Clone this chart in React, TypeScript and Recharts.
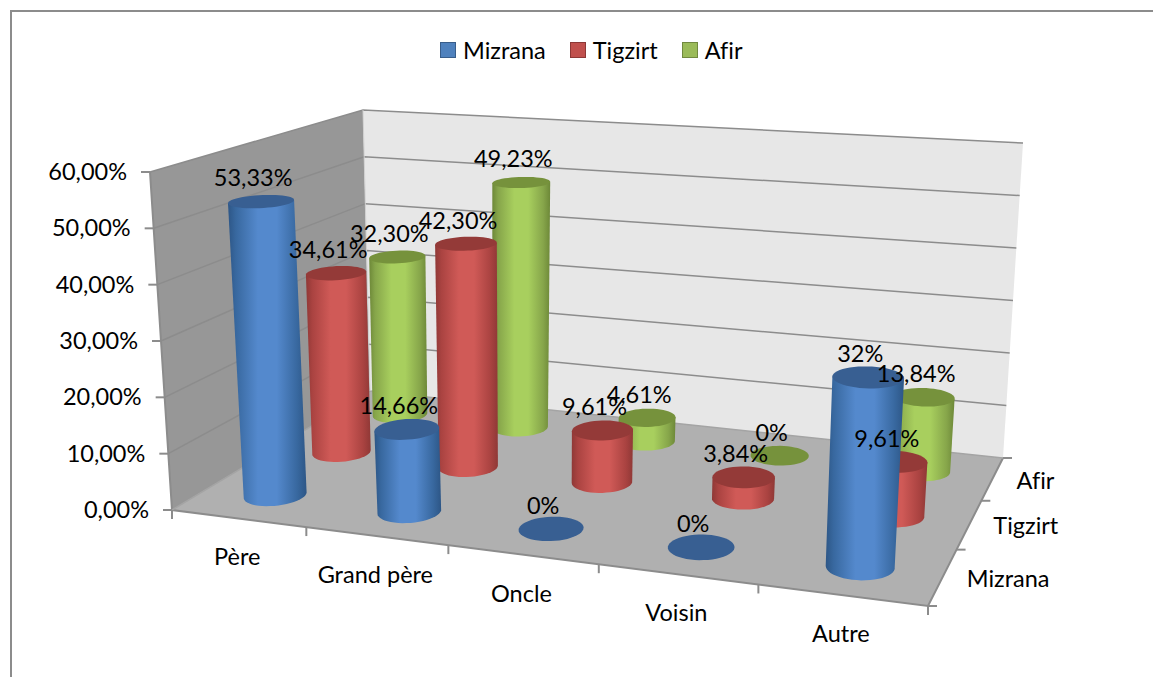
import { Bar, BarChart, LabelList, Legend, XAxis, YAxis } from "recharts";

const CATEGORIES = ["Père", "Grand père", "Oncle", "Voisin", "Autre"];
const MIZRANA = [53.33, 14.66, 0, 0, 32];
const TIGZIRT = [34.61, 42.3, 9.61, 3.84, 9.61];
const AFIR = [32.3, 49.23, 4.61, 0, 13.84];
const Y_TICKS = [0, 10, 20, 30, 40, 50, 60];
const Y_MAX = 60;

const rows = CATEGORIES.map((name, i) => ({
  name,
  Mizrana: MIZRANA[i],
  Tigzirt: TIGZIRT[i],
  Afir: AFIR[i],
}));

// back to front, the draw order of the cylinders
const SERIES = [
  { key: "Afir", depth: 5 / 6, side: "#6d8838", edge: "#86a54a", mid: "#a8cf5e", top: "#76923c", swatch: "#9bbb59", border: "#71893f" },
  { key: "Tigzirt", depth: 1 / 2, side: "#8f3836", edge: "#aa4341", mid: "#d05a57", top: "#943a38", swatch: "#c0504d", border: "#8c3836" },
  { key: "Mizrana", depth: 1 / 6, side: "#2d5686", edge: "#38689f", mid: "#5489cd", top: "#385f92", swatch: "#4f81bd", border: "#385d8a" },
];

const W = 1153;
const H = 677;
// logical plot rectangle handed to recharts, projected afterwards
const PLOT = { left: 100, top: 100, width: 800, height: 400 };
const FONT = "Lato, Carlito, Calibri, sans-serif";
const FONT_SIZE = 23.5;
const LINE = "#8c8c8c";
const CYL_DU = 0.041;
const CYL_DV = 0.078;
const FLOOR_WARP = 0.963;
const CEIL_WARP = 1.142;

type Pt = [number, number];

// unit square -> quad (p00, p10, p11, p01)
function homography(p00: Pt, p10: Pt, p11: Pt, p01: Pt) {
  const dx1 = p10[0] - p11[0];
  const dx2 = p01[0] - p11[0];
  const sx = p00[0] - p10[0] + p11[0] - p01[0];
  const dy1 = p10[1] - p11[1];
  const dy2 = p01[1] - p11[1];
  const sy = p00[1] - p10[1] + p11[1] - p01[1];
  const den = dx1 * dy2 - dx2 * dy1;
  const g = (sx * dy2 - dx2 * sy) / den;
  const h = (dx1 * sy - sx * dy1) / den;
  const a = p10[0] - p00[0] + g * p10[0];
  const b = p01[0] - p00[0] + h * p01[0];
  const d = p10[1] - p00[1] + g * p10[1];
  const e = p01[1] - p00[1] + h * p01[1];
  return (u: number, v: number): Pt => {
    const w = g * u + h * v + 1;
    return [(a * u + b * v + p00[0]) / w, (d * u + e * v + p00[1]) / w];
  };
}

const floorAt = homography([172, 510], [928, 606], [1003, 458], [370, 391]);
const ceilAt = homography([150, 172], [948, 238], [1023, 143], [363, 110]);
const warp = (u: number, k: number) => (k * u) / (1 + (k - 1) * u);

// u along categories, v along series, t = share of the value axis
function project(u: number, v: number, t: number): Pt {
  const f = floorAt(warp(u, FLOOR_WARP), v);
  const c = ceilAt(warp(u, CEIL_WARP), v);
  return [f[0] + (c[0] - f[0]) * t, f[1] + (c[1] - f[1]) * t];
}

const toU = (x: number) => (x - PLOT.left) / PLOT.width;
const toT = (y: number) => (PLOT.top + PLOT.height - y) / PLOT.height;

const pathOf = (pts: Pt[]) => "M" + pts.map((p) => `${p[0].toFixed(1)},${p[1].toFixed(1)}`).join("L") + "Z";

function ring(u: number, v: number, t: number): Pt[] {
  const out: Pt[] = [];
  for (let i = 0; i < 48; i++) {
    const a = (i / 48) * Math.PI * 2;
    out.push(project(u + CYL_DU * Math.cos(a), v + CYL_DV * Math.sin(a), t));
  }
  return out;
}

function barCenter(x: number, width: number, seriesIndex: number) {
  // the three grouped bars share one band, all cylinders sit on the band centre
  return toU(x + width / 2 + (1 - seriesIndex) * width);
}

function Cylinder(props: any) {
  const { x, y, width, seriesIndex } = props;
  const s = SERIES[seriesIndex];
  const u = barCenter(x, width, seriesIndex);
  const t = toT(y);
  const top = ring(u, s.depth, t);
  if (t <= 0) return <path d={pathOf(top)} fill={s.top} />;
  const bottom = ring(u, s.depth, 0);
  const extreme = (pts: Pt[], sign: number) =>
    pts.reduce((best, p, i) => (p[0] * sign > pts[best][0] * sign ? i : best), 0);
  const bl = extreme(bottom, -1);
  const br = extreme(bottom, 1);
  // front half of the bottom ring, walked from left to right
  const front: Pt[] = [];
  for (let i = bl; i !== br; i = (i + 1) % 48) front.push(bottom[i]);
  const hull = [top[extreme(top, -1)], ...front, bottom[br], top[extreme(top, 1)]];
  return (
    <g>
      <path d={pathOf(hull)} fill={`url(#cyl-${s.key})`} />
      <path d={pathOf(top)} fill={s.top} />
    </g>
  );
}

function ValueLabel(props: any) {
  const { x, y, width, value, seriesIndex } = props;
  const s = SERIES[seriesIndex];
  const p = project(barCenter(x, width, seriesIndex), s.depth, toT(y));
  const text = value === 0 ? "0%" : value === 32 ? "32%" : `${value.toFixed(2).replace(".", ",")}%`;
  return (
    <text x={p[0] - 8} y={p[1] - 15} textAnchor="middle" fontFamily={FONT} fontSize={FONT_SIZE} fill="#000">
      {text}
    </text>
  );
}

function Gradients() {
  return (
    <defs>
      {SERIES.map((s) => (
        <linearGradient key={s.key} id={`cyl-${s.key}`} x1="0" y1="0" x2="1" y2="0">
          <stop offset="0" stopColor={s.side} />
          <stop offset="0.1" stopColor={s.edge} />
          <stop offset="0.38" stopColor={s.mid} />
          <stop offset="0.62" stopColor={s.mid} />
          <stop offset="0.88" stopColor={s.edge} />
          <stop offset="1" stopColor={s.side} />
        </linearGradient>
      ))}
    </defs>
  );
}

function Walls() {
  const a = project(0, 0, 0);
  const b = project(1, 0, 0);
  const c = project(1, 1, 0);
  const d = project(0, 1, 0);
  const e = project(0, 0, 1);
  const f = project(0, 1, 1);
  const g = project(1, 1, 1);
  return (
    <g>
      <path d={pathOf([a, e, f, d])} fill="#979797" />
      <path d={pathOf([d, f, g, c])} fill="#e7e7e7" />
      <path d={pathOf([a, b, c, d])} fill="#b0b0b0" />
      {Y_TICKS.slice(1).map((tick) => {
        const t = tick / Y_MAX;
        return (
          <path
            key={tick}
            d={`M${project(0, 0, t)}L${project(0, 1, t)}L${project(1, 1, t)}`}
            fill="none"
            stroke={LINE}
            strokeWidth={1.5}
          />
        );
      })}
      <path d={`M${e}L${a}L${b}L${c}`} fill="none" stroke={LINE} strokeWidth={2} />
      <path d={`M${a}L${d}L${c}`} fill="none" stroke="#a4a4a4" strokeWidth={1.5} />
      <path d={`M${d}L${f}`} fill="none" stroke="#d0d0d0" strokeWidth={1} />
    </g>
  );
}

function ValueTick(props: any) {
  const { y, payload } = props;
  const p = project(0, 0, toT(y));
  return (
    <g>
      <line x1={p[0] - 9} y1={p[1]} x2={p[0]} y2={p[1]} stroke={LINE} strokeWidth={2} />
      <text x={p[0] - 23} y={p[1] + 8} textAnchor="end" fontFamily={FONT} fontSize={FONT_SIZE} fill="#000">
        {`${payload.value.toFixed(2).replace(".", ",")}%`}
      </text>
    </g>
  );
}

function CategoryTick(props: any) {
  const { x, payload, index } = props;
  const p = project(toU(x), 0, 0);
  const edge = project(index / CATEGORIES.length, 0, 0);
  const end = project(1, 0, 0);
  return (
    <g>
      <line x1={edge[0]} y1={edge[1]} x2={edge[0]} y2={edge[1] + 9} stroke={LINE} strokeWidth={2} />
      {index === CATEGORIES.length - 1 && (
        <line x1={end[0]} y1={end[1]} x2={end[0]} y2={end[1] + 9} stroke={LINE} strokeWidth={2} />
      )}
      <text x={p[0] - 1} y={p[1] + 47} textAnchor="middle" fontFamily={FONT} fontSize={FONT_SIZE} fill="#000">
        {payload.value}
      </text>
    </g>
  );
}

function DepthAxis() {
  return (
    <g>
      {[0, 1 / 3, 2 / 3, 1].map((v) => {
        const p = project(1, v, 0);
        return <line key={v} x1={p[0]} y1={p[1]} x2={p[0] + 9} y2={p[1]} stroke={LINE} strokeWidth={2} />;
      })}
      {SERIES.map((s) => {
        const p = project(1, s.depth, 0);
        return (
          <text
            key={s.key}
            x={p[0] + 24}
            y={p[1] + 10}
            fontFamily={FONT}
            fontSize={FONT_SIZE}
            fill="#000"
            style={{ fontVariantLigatures: "none" }}
          >
            {s.key}
          </text>
        );
      })}
    </g>
  );
}

function LegendRow() {
  const items = [...SERIES].reverse();
  return (
    <div style={{ height: 0, position: "relative" }}>
      <div style={{ position: "absolute", left: 440, top: 0, display: "flex", fontFamily: FONT, fontSize: FONT_SIZE, lineHeight: "30px", color: "#000", fontVariantLigatures: "none" }}>
        {items.map((s) => (
          <div key={s.key} style={{ display: "flex", alignItems: "center", marginRight: 24 }}>
            <span style={{ width: 14, height: 14, background: s.swatch, border: `1px solid ${s.border}`, marginRight: 7 }} />
            {s.key}
          </div>
        ))}
      </div>
    </div>
  );
}

export default function App() {
  return (
    <div style={{ position: "absolute", left: 0, top: 0, width: W, height: H, overflow: "hidden", background: "#fff" }}>
      <div style={{ position: "absolute", left: 10, top: 10, width: 1150, height: 700, border: `2px solid ${LINE}`, borderRight: "none" }} />
      <BarChart
        width={W}
        height={H}
        data={rows}
        barGap={0}
        barCategoryGap="10%"
        margin={{ top: PLOT.top, left: PLOT.left - 1, right: W - PLOT.left - PLOT.width, bottom: H - PLOT.top - PLOT.height - 1 }}
        style={{ position: "absolute" }}
      >
        <Gradients />
        <Walls />
        <XAxis dataKey="name" height={1} axisLine={false} tickLine={false} interval={0} tick={CategoryTick} />
        <YAxis width={1} domain={[0, Y_MAX]} ticks={Y_TICKS} axisLine={false} tickLine={false} tick={ValueTick} />
        <DepthAxis />
        <Legend wrapperStyle={{ left: 0, top: 35, width: W }} verticalAlign="top" content={<LegendRow />} />
        {SERIES.map((s, i) => (
          <Bar
            key={s.key}
            dataKey={s.key}
            isAnimationActive={false}
            shape={(p: any) => <Cylinder {...p} seriesIndex={i} />}
          >
            <LabelList dataKey={s.key} content={(p: any) => <ValueLabel {...p} seriesIndex={i} />} />
          </Bar>
        ))}
      </BarChart>
    </div>
  );
}
